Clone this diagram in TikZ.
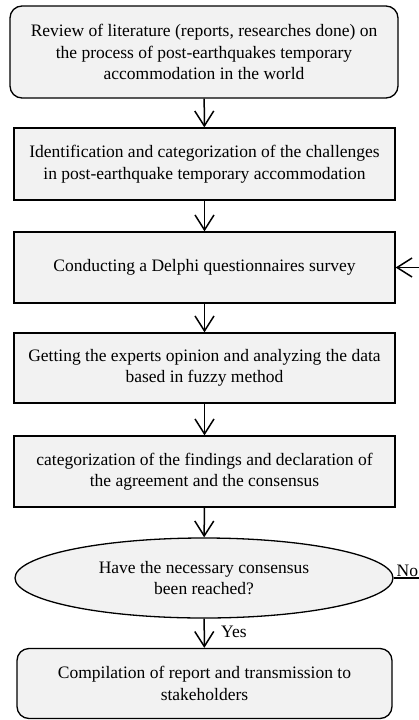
\documentclass[tikz,border=0pt]{standalone}
\usepackage{fontspec}
\setmainfont{Liberation Serif}
\usetikzlibrary{arrows.meta,shapes.geometric}
\definecolor{box_grey}{RGB}{242, 242, 242}
\tikzstyle{rbox}=[rectangle,rounded corners=12pt,fill=box_grey,draw=black,
  line width=1.3pt,align=center,inner sep=0pt]
\tikzstyle{sbox}=[rectangle,fill=box_grey,draw=black,
  line width=1.3pt,align=center,inner sep=0pt]
\tikzstyle{qn}=[ellipse,fill=box_grey,draw=black,
  line width=1.3pt,align=center,inner sep=0pt]
\tikzstyle{flow}=[line width=1.5pt,-{Straight Barb[length=15pt,width=19pt]}]
\tikzstyle{none}=[inner sep=0pt]

\begin{document}
\begin{tikzpicture}[x=1pt, y=-1pt, every node/.style={font=\fontsize{17.5pt}{21.5pt}\selectfont}]
        \useasboundingbox (0, 0) rectangle (419, 720);
        \clip (0, 0) rectangle (419, 720);
        \fill [white] (0, 0) rectangle (419, 720);
        \node [style=rbox, minimum width=388pt, minimum height=92pt] (0) at (204, 52) {Review of literature (reports, researches done) on\\the process of post-earthquakes temporary\\accommodation in the world};
        \node [style=sbox, minimum width=381pt, minimum height=72pt] (1) at (204.5, 164) {Identification and categorization of the challenges\\in post-earthquake temporary accommodation};
        \node [style=sbox, minimum width=381pt, minimum height=71pt] (2) at (204.5, 267.5) {Conducting a Delphi questionnaires survey};
        \node [style=sbox, minimum width=381pt, minimum height=70pt] (3) at (204.5, 368) {Getting the experts opinion and analyzing the data\\based in fuzzy method};
        \node [style=sbox, minimum width=381pt, minimum height=71pt] (4) at (204.5, 471.5) {categorization of the findings and declaration of\\the agreement and the consensus};
        \node [style=qn, minimum width=378pt, minimum height=80pt] (5) at (204, 578) {Have the necessary consensus\\been reached?};
        \node [style=rbox, minimum width=375pt, minimum height=70pt] (6) at (204.5, 683.5) {Compilation of report and transmission to\\stakeholders};
        \coordinate (7) at (440, 578);
        \coordinate (8) at (440, 267.5);
        \node [style=none, anchor=base west] (9) at (221, 637) {Yes};
        \node [style=none, anchor=base west] (10) at (396.5, 576) {No};
        \draw [style=flow] (0) to (1);
        \draw [style=flow] (1) to (2);
        \draw [style=flow] (2) to (3);
        \draw [style=flow] (3) to (4);
        \draw [style=flow] (4) to (5);
        \draw [style=flow] (5) to (6);
        \draw [style=flow] (5) -- (7) -- (8) -- (2);
    \end{tikzpicture}
\end{document}
